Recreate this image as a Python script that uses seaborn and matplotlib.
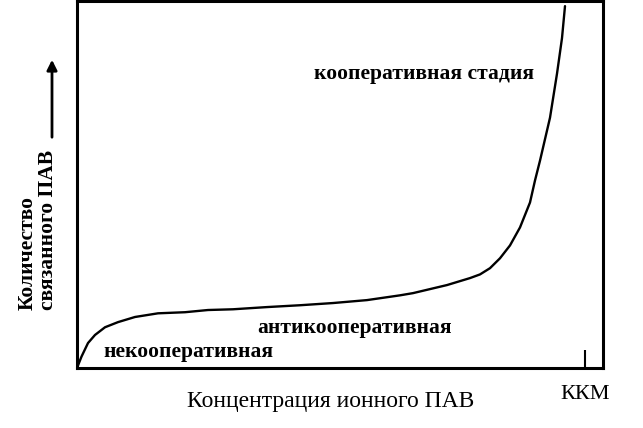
import numpy as np
import pandas as pd
import seaborn as sns
import matplotlib.pyplot as plt
from matplotlib.patches import FancyArrowPatch

# Схематическая кривая связывания ионного ПАВ (условные единицы)
conc = [0, 0.09, 0.22, 0.36, 0.56, 0.82, 1.16, 1.62, 2.16, 2.62, 3.12, 3.80,
        4.46, 5.12, 5.80, 6.46, 6.72, 7.40, 7.86, 8.06, 8.26, 8.46, 8.66,
        8.86, 9.06, 9.16, 9.26, 9.46, 9.60, 9.70, 9.76]
bound = [0, 0.31, 0.68, 0.90, 1.11, 1.25, 1.39, 1.49, 1.52, 1.58, 1.60, 1.66,
         1.71, 1.77, 1.85, 1.98, 2.04, 2.26, 2.45, 2.55, 2.72, 2.99, 3.34,
         3.83, 4.51, 5.11, 5.65, 6.82, 8.02, 8.99, 9.86]
kkm_pos = 10.16

df = pd.DataFrame({"conc": conc, "bound": bound})

sns.set_theme(style="white")
plt.rcParams['font.family'] = ['Liberation Serif', 'DejaVu Serif']
plt.rcParams['text.color'] = 'black'

fig = plt.figure(figsize=(6.43, 4.28), dpi=100)
ax = fig.add_axes([77 / 643, 60 / 428, 526 / 643, 367 / 428])

sns.lineplot(data=df, x="conc", y="bound", sort=False, color="black",
             linewidth=1.7, ax=ax)

ax.set_xlim(0, 10.52)
ax.set_ylim(0, 10)
ax.set_xticks([kkm_pos])
ax.set_xticklabels(["ККМ"], fontsize=16)
ax.set_yticks([])
ax.tick_params(axis="x", direction="in", length=13, width=1.5, pad=12,
               bottom=True, colors="black")
for s in ax.spines.values():
    s.set_color("black")
    s.set_linewidth(2.2)

ax.set_xlabel("")
ax.set_ylabel("")

ax.text(6.94, 8.02, "кооперативная стадия", fontsize=15.5, fontweight="bold",
        ha="center", va="center")
ax.text(5.56, 1.09, "антикооперативная", fontsize=15.5, fontweight="bold",
        ha="center", va="center")
ax.text(2.22, 0.43, "некооперативная", fontsize=15.5, fontweight="bold",
        ha="center", va="center")

fig.text(331 / 643, 1 - 402 / 428, "Концентрация ионного ПАВ", fontsize=17,
         ha="center", va="center")
fig.text(38 / 643, 1 - 310 / 428, "Количество\nсвязанного ПАВ", fontsize=15.5,
         fontweight="bold", rotation=90, rotation_mode="anchor", ha="left",
         va="center", multialignment="left", linespacing=1.05)
fig.patches.append(FancyArrowPatch(
    (52 / 643, 1 - 140 / 428), (52 / 643, 1 - 57 / 428),
    transform=fig.transFigure, arrowstyle="-|>", mutation_scale=15,
    color="black", linewidth=2))

fig.savefig("out.png", dpi=100)
